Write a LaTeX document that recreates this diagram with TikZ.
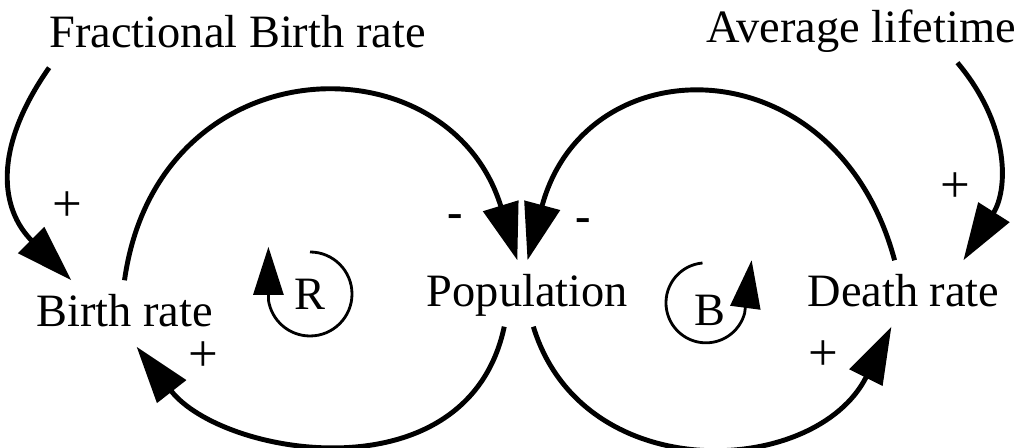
\documentclass[tikz,border=0pt]{standalone}
\usepackage{fontspec}
\setmainfont{Liberation Serif}
\usepackage{tikz}
\usetikzlibrary{arrows.meta}
\newcommand{\lblfont}{\fontsize{13.2}{15}\selectfont}
\newcommand{\sgnfont}{\fontsize{15}{17}\selectfont}

\begin{document}
\begin{tikzpicture}[
  font=\lblfont,
  var/.style={anchor=base,text height=0.32cm,text depth=0.05cm,inner sep=0.14cm},
  sgn/.style={font=\sgnfont,inner sep=1pt},
  minus/.style={font=\lblfont\bfseries,inner sep=1pt},
  link/.style={-{Triangle[length=0.57cm,width=0.36cm]},line width=1.4pt},
  loopline/.style={-{Triangle[length=0.48cm,width=0.3cm]},line width=0.8pt},
]
\path[use as bounding box,fill=white] (0,0) rectangle (10.18,4.48);

% variables
\node[var] (frac)  at (2.375,4.00) {Fractional Birth rate};
\node[var] (avg)   at (8.61,4.05)  {Average lifetime};
\node[var] (birth) at (1.245,1.21) {Birth rate};
\node[var] (pop)   at (5.275,1.41) {Population};
\node[var] (death) at (9.035,1.41) {Death rate};

% loop markers
\node (rsym) at (3.10,1.54) {R};
\node (bsym) at (7.10,1.38) {B};
\draw[loopline] ([shift={(90:0.42)}]rsym.center) arc[start angle=90,end angle=-172,radius=0.42] -- ++(0,0.53);
\draw[loopline] ([shift={(-0.075,0.47)}]bsym.center) arc[start angle=95,end angle=345,radius=0.4] -- ++(0.07,0.53);

% links
\draw[link] (frac.-170) .. controls +(235:1.0) and +(135:1.0) .. (birth.148);
\draw[link] (birth.north) .. controls +(82:2.4) and +(107:2.35) .. (pop.107);
\draw[link] (pop.-125) .. controls +(258:1.75) and +(308:1.4) .. (birth.-70);
\draw[link] (death.105) .. controls +(105:2.25) and +(75:2.25) .. (pop.north);
\draw[link] (pop.-80) .. controls +(287:1.69) and +(243.4:1.69) .. (death.-110);
\draw[link] (avg.-19) .. controls +(-50:0.83) and +(57.6:0.83) .. (death.29);

% polarities
\node[sgn] (p1) at (0.67,2.41) {+};
\node[sgn] (p2) at (2.03,0.91) {+};
\node[sgn] (p3) at (9.55,2.60) {+};
\node[sgn] (p4) at (8.23,0.92) {+};
\node[minus] (m1) at (4.55,2.27) {-};
\node[minus] (m2) at (5.83,2.23) {-};

\end{tikzpicture}
\end{document}
